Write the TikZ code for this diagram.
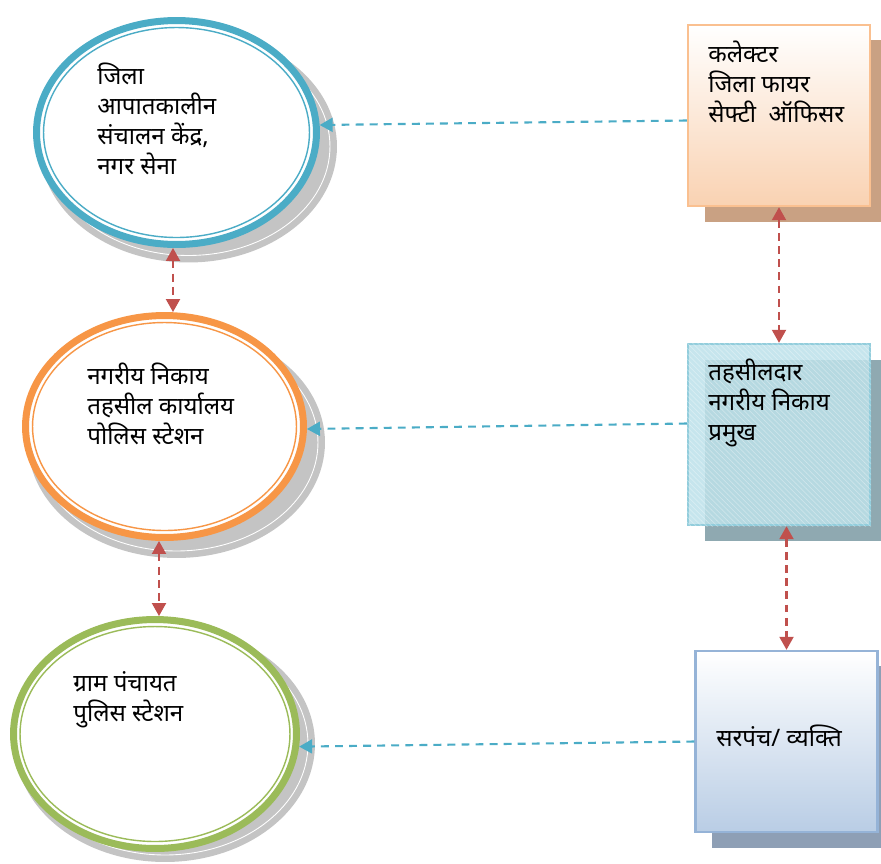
\documentclass[tikz,border=0pt]{standalone}
\usepackage{fontspec}
\newfontfamily\devfont[Script=Devanagari]{Noto Sans}
\usetikzlibrary{shapes.geometric,arrows.meta,patterns,positioning}

\definecolor{ringblue}{HTML}{4BACC6}
\definecolor{ringorange}{HTML}{F79646}
\definecolor{ringgreen}{HTML}{9BBB59}
\definecolor{shadowgray}{HTML}{C4C4C4}
\definecolor{linkred}{HTML}{C0504D}
\definecolor{peachline}{HTML}{FAC090}
\definecolor{peachfill}{HTML}{F9D2B2}
\definecolor{peachshadow}{HTML}{C9A183}
\definecolor{tealline}{HTML}{92CDDC}
\definecolor{tealfill}{HTML}{BDE1EA}
\definecolor{tealshadow}{HTML}{8FA9B1}
\definecolor{steelline}{HTML}{95B3D7}
\definecolor{steelfill}{HTML}{B9CDE5}
\definecolor{steelshadow}{HTML}{8E9FB5}

\tikzset{
	ring/.style={ellipse, draw=#1, line width=0.14cm, fill=white, inner sep=0pt},
	innerring/.style={draw=#1, line width=0.8pt},
	dropshade/.style={fill=shadowgray},
	card/.style={rectangle, draw=#1, line width=1.4pt, minimum width=3.64cm, minimum height=3.62cm, inner sep=0pt},
	label/.style={font=\devfont\fontsize{13.7}{17}\selectfont, align=left, inner sep=0pt},
	bluelink/.style={ringblue, line width=1.2pt, dash pattern=on 4.5pt off 3.5pt, -{Triangle[length=2.6mm,width=2.8mm]}},
	redlink/.style={linkred, line width=1.2pt, dash pattern=on 4.5pt off 3pt, {Triangle[length=2.6mm,width=2.8mm]}-{Triangle[length=2.6mm,width=2.8mm]}}
}

\begin{document}
\begin{tikzpicture}[x=0.02cm, y=-0.02cm]
	\useasboundingbox (0,0) rectangle (881,863);
	% left column: ellipses
	\coordinate (c1) at (176.5,132.5);
	\coordinate (c2) at (164.5,426.5);
	\coordinate (c3) at (155,734);
	\fill[dropshade] ([xshift=0.24cm,yshift=-0.28cm]c1) ellipse [x radius=2.97cm, y radius=2.32cm];
	\draw[white, line width=0.5pt] ([xshift=0.24cm,yshift=-0.28cm]c1) ellipse [x radius=2.83cm, y radius=2.18cm];
	\fill[dropshade] ([xshift=0.24cm,yshift=-0.32cm]c2) ellipse [x radius=2.97cm, y radius=2.31cm];
	\draw[white, line width=0.5pt] ([xshift=0.24cm,yshift=-0.32cm]c2) ellipse [x radius=2.83cm, y radius=2.17cm];
	\fill[dropshade] ([xshift=0.2cm,yshift=-0.2cm]c3) ellipse [x radius=3cm, y radius=2.36cm];
	\draw[white, line width=0.5pt] ([xshift=0.2cm,yshift=-0.2cm]c3) ellipse [x radius=2.86cm, y radius=2.22cm];
	\node[ring=ringblue, minimum width=5.6cm, minimum height=4.48cm] (e1) at (c1) {};
	\node[ring=ringorange, minimum width=5.56cm, minimum height=4.44cm] (e2) at (c2) {};
	\node[ring=ringgreen, minimum width=5.66cm, minimum height=4.58cm] (e3) at (c3) {};
	\draw[innerring=ringblue] (c1) ellipse [x radius=2.66cm, y radius=2.1cm];
	\draw[innerring=ringorange] (c2) ellipse [x radius=2.64cm, y radius=2.08cm];
	\draw[innerring=ringgreen] (c3) ellipse [x radius=2.7cm, y radius=2.15cm];
	\node[label, anchor=north west] (t1) at (97,63) {जिला\\आपातकालीन\\संचालन केंद्र,\\नगर सेना};
	\node[label, anchor=north west] (t2) at (87,363) {नगरीय निकाय\\तहसील कार्यालय\\पोलिस स्टेशन};
	\node[label, anchor=north west] (t3) at (73,671) {ग्राम पंचायत\\पुलिस स्टेशन};
	% right column: boxes
	\fill[peachshadow] (705,40) rectangle (881,222);
	\fill[tealshadow] (705,360) rectangle (881,541);
	\fill[steelshadow] (712,666) rectangle (881,848);
	\node[card=peachline, top color=white, bottom color=peachfill] (b1) at (779,115.5) {};
	\node[card=tealline, fill=tealfill, fill opacity=0.86] (b2) at (779,434.5) {};
	\fill[pattern=north west lines, pattern color=white, opacity=0.3] (b2.south west) rectangle (b2.north east);
	\node[card=steelline, top color=white, bottom color=steelfill] (b3) at (786.5,741.5) {};
	\node[label, anchor=north west] (tb1) at (708,41) {कलेक्टर\\जिला फायर\\सेफ्टी~ ऑफिसर};
	\node[label, anchor=north west] (tb2) at (708,359) {तहसीलदार\\नगरीय निकाय\\प्रमुख};
	\node[label, anchor=west] (tb3) at (716,736) {सरपंच/ व्यक्ति};
	% links
	\draw[bluelink] ([yshift=-0.1cm]b1.west) -- (e1.3);
	\draw[bluelink] ([yshift=0.22cm]b2.west) -- (e2.-1);
	\draw[bluelink] (b3.west) -- (e3.-5);
	\draw[redlink] ([xshift=-0.07cm]e1.south) -- ([xshift=-0.07cm]e1.south |- e2.north);
	\draw[redlink] ([xshift=0.08cm]e3.north |- e2.south) -- ([xshift=0.08cm]e3.north);
	\draw[redlink] (b1.south) -- (b2.north);
	\draw[redlink] (b3.north |- b2.south) -- (b3.north);
\end{tikzpicture}
\end{document}
